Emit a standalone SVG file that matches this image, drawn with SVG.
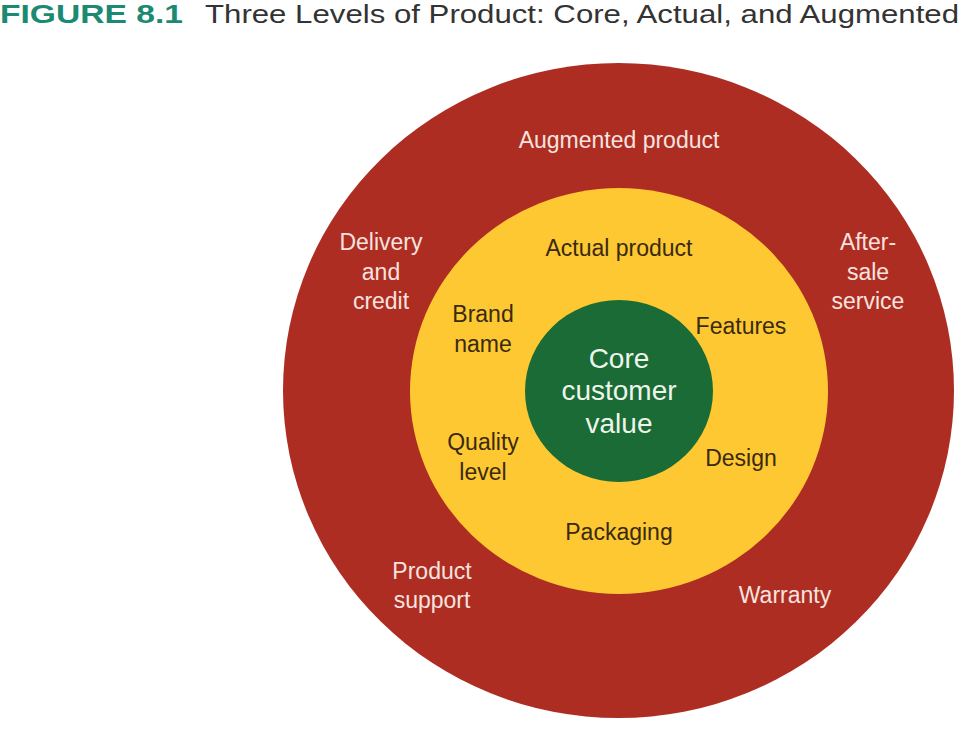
<svg xmlns="http://www.w3.org/2000/svg" width="960" height="734" viewBox="0 0 960 734">
<style>
.t{font-family:"Liberation Sans",Arial,sans-serif;text-anchor:middle;font-size:23px}
.w{fill:#f7e3df}
.d{fill:#3a2a10}
.g{fill:#eef5ec;font-size:28px}
</style>
<rect width="960" height="734" fill="#ffffff"/>
<g id="title">
<text x="0" y="23" font-family="Liberation Sans, Arial, sans-serif" font-size="26" font-weight="bold" fill="#1c8a72" textLength="183" lengthAdjust="spacingAndGlyphs">FIGURE 8.1</text>
<text x="205" y="23" font-family="Liberation Sans, Arial, sans-serif" font-size="26" fill="#333333" textLength="754" lengthAdjust="spacingAndGlyphs">Three Levels of Product: Core, Actual, and Augmented</text>
</g>
<g id="augmented">
<ellipse cx="618.5" cy="390.5" rx="335.5" ry="327.5" fill="#ae2d23"/>
<text class="t w" x="619" y="148" font-size="24">Augmented product</text>
<text class="t w" x="381" y="250">Delivery<tspan x="381" y="280">and</tspan><tspan x="381" y="309">credit</tspan></text>
<text class="t w" x="868" y="250">After-<tspan x="868" y="280">sale</tspan><tspan x="868" y="309">service</tspan></text>
<text class="t w" x="432" y="579">Product<tspan x="432" y="608">support</tspan></text>
<text class="t w" x="785" y="603">Warranty</text>
</g>
<g id="actual">
<ellipse cx="619" cy="391" rx="209" ry="203" fill="#fdc832"/>
<text class="t d" x="619" y="256" font-size="24">Actual product</text>
<text class="t d" x="483" y="322">Brand<tspan x="483" y="352">name</tspan></text>
<text class="t d" x="741" y="334">Features</text>
<text class="t d" x="483" y="450">Quality<tspan x="483" y="480">level</tspan></text>
<text class="t d" x="741" y="466">Design</text>
<text class="t d" x="619" y="540">Packaging</text>
</g>
<g id="core">
<ellipse cx="619" cy="391" rx="94" ry="91" fill="#1a6b35"/>
<text class="t g" x="619" y="368">Core<tspan x="619" y="400">customer</tspan><tspan x="619" y="433">value</tspan></text>
</g>
<g id="connectors"></g>
</svg>
